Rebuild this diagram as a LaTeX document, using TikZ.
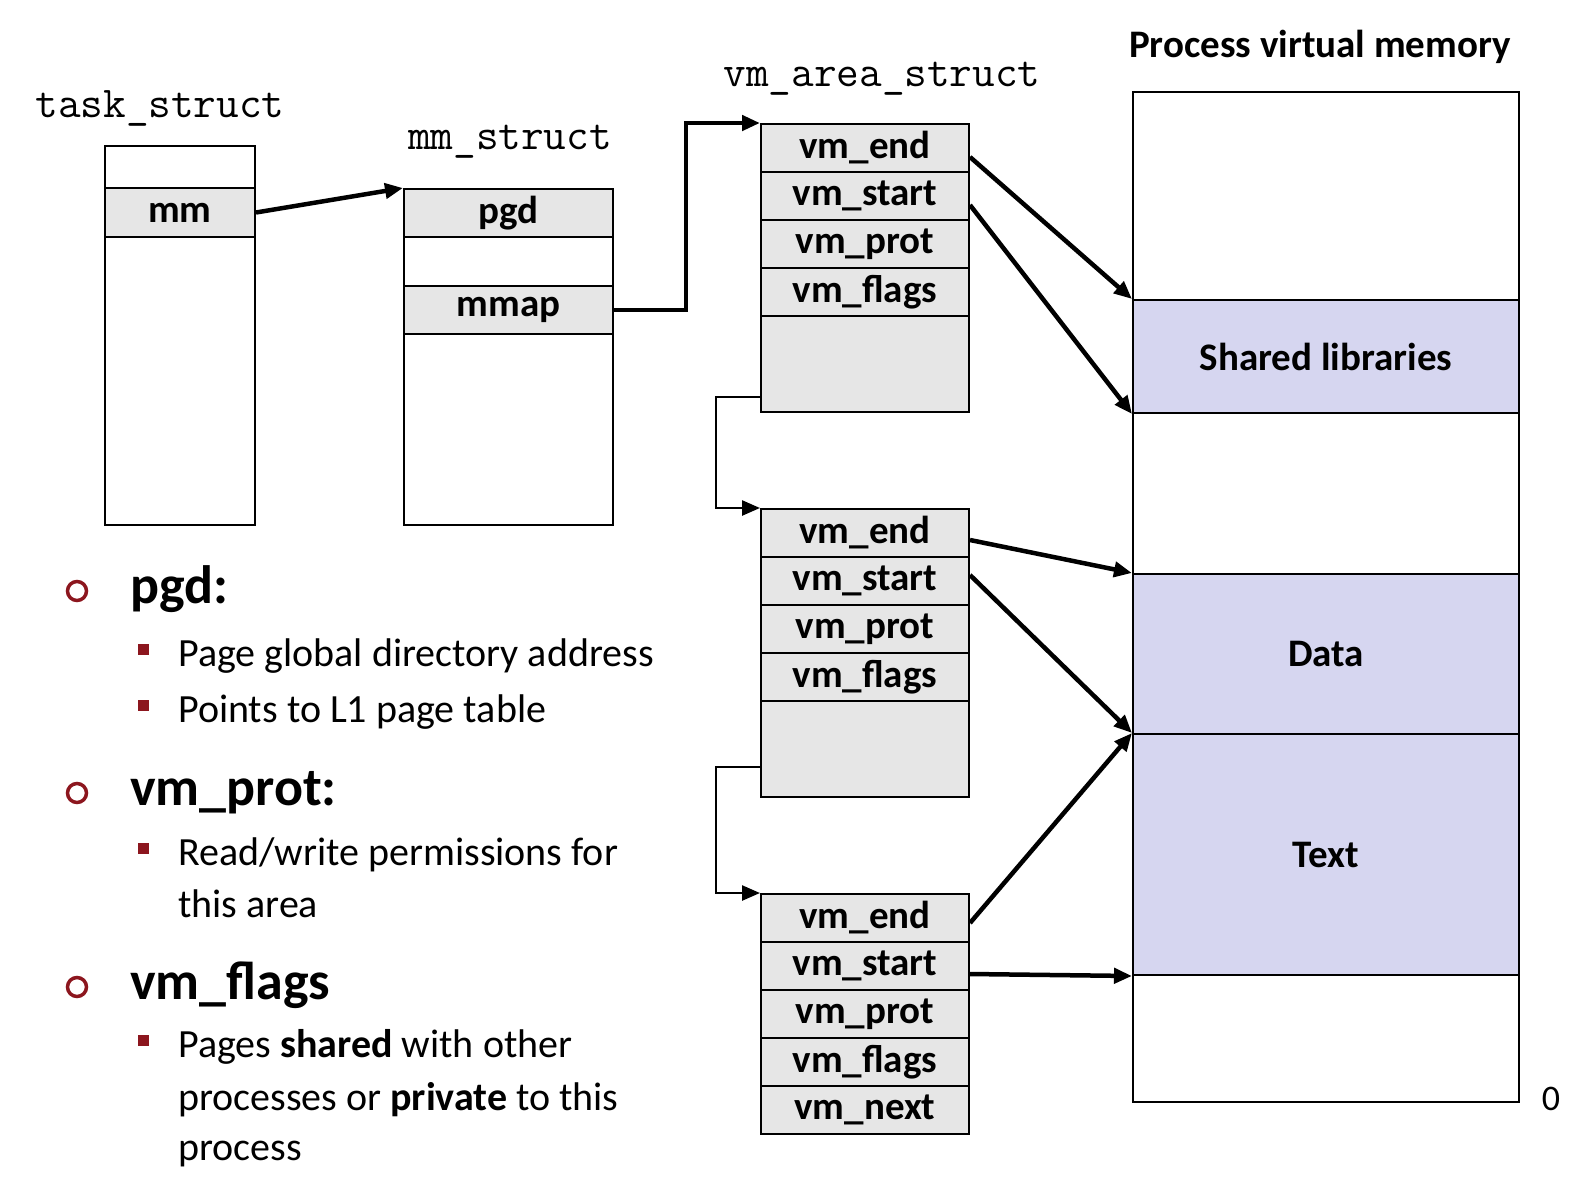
\documentclass[tikz,border=0pt]{standalone}
\usepackage{fontspec}
\setmainfont{Carlito}
\usetikzlibrary{arrows.meta}
\definecolor{fieldgray}{RGB}{230,230,230}
\definecolor{lavender}{RGB}{214,214,240}
\definecolor{bulletred}{RGB}{140,22,30}
\newcommand{\fieldfont}{\fontsize{39}{44}\selectfont\bfseries}
\newcommand{\structfont}{\fontsize{44}{50}\selectfont\ttfamily}
\newcommand{\headfont}{\fontsize{54}{60}\selectfont\bfseries}
\newcommand{\subfont}{\fontsize{40}{52}\selectfont}
\tikzstyle{field}=[draw, fill=fieldgray, line width=2pt, minimum width=208pt, minimum height=48pt, inner sep=0pt, font=\fieldfont]
\tikzstyle{emptyfield}=[field, fill=white]
\tikzstyle{region}=[draw, line width=2pt, minimum width=386pt, inner sep=0pt, font=\fieldfont]
\tikzstyle{structname}=[font=\structfont, anchor=base]
\tikzstyle{ptr}=[-{Triangle[length=18pt,width=15pt]}, line width=4.5pt]
\tikzstyle{nextptr}=[ptr, line width=2.5pt]
\tikzstyle{heading}=[font=\headfont, anchor=base west, inner sep=0pt]
\tikzstyle{subtext}=[font=\subfont, anchor=base west, inner sep=0pt]
\tikzstyle{roundbullet}=[circle, draw=bulletred, line width=3.5pt, minimum size=19pt, inner sep=0pt]
\tikzstyle{squarebullet}=[rectangle, fill=bulletred, minimum size=11pt, inner sep=0pt]

\begin{document}
\begin{tikzpicture}[x=1pt, y=-1pt]

  \useasboundingbox (0,0) rectangle (1590,1202);

  \node[structname] (tsName) at (160,117) {task\_struct};
  \node[structname] (mmName) at (510,149) {mm\_struct};
  \node[structname] (vmName) at (882,86) {vm\_area\_struct};
  \node[font=\fieldfont, anchor=base] (pvmName) at (1320,57) {Process virtual memory};

  % task_struct
  \node[emptyfield, minimum width=150pt, minimum height=42pt] (tsTop) at (180,167) {};
  \node[field, minimum width=150pt, minimum height=49pt] (tsMm) at (180,212.5) {mm};
  \node[emptyfield, minimum width=150pt, minimum height=288pt] (tsRest) at (180,381) {};

  % mm_struct
  \node[field, minimum width=209pt] (mmPgd) at (508.5,213) {pgd};
  \node[emptyfield, minimum width=209pt, minimum height=49pt] (mmGap) at (508.5,261.5) {};
  \node[field, minimum width=209pt] (mmMmap) at (508.5,310) {mmap};
  \node[emptyfield, minimum width=209pt, minimum height=191pt] (mmRest) at (508.5,429.5) {};

  % vm_area_struct list
  \foreach \b/\top in {1/124, 2/509, 3/894}
    \foreach \f/\lbl [count=\i from 0] in {end/vm\_end, start/vm\_start, prot/vm\_prot, flags/vm\_flags}
      \node[field] (b\b\f) at (865, {\top+24+48*\i}) {\lbl};
  \node[field, minimum height=96pt] (b1rest) at (865,364) {};
  \node[field, minimum height=96pt] (b2rest) at (865,749) {};
  \node[field] (b3next) at (865,1110) {vm\_next};

  % process virtual memory
  \foreach \name/\ypos/\h/\c/\lbl in {memtop/196/208/white/{}, memshlib/356.5/113/lavender/Shared libraries, memgap/493.5/161/white/{}, memdata/654/160/lavender/Data, memtext/854.5/241/lavender/Text, membot/1038.5/127/white/{}}
    \node[region, fill=\c, minimum height=\h] (\name) at (1326,\ypos) {\lbl};
  \node[font=\fontsize{36}{40}\selectfont, anchor=base] (zeroMark) at (1551,1110) {0};

  \draw[ptr] (tsMm.east) -- (mmPgd.north west);
  \draw[ptr] (mmMmap.east) -- ++(72,0) |- (b1end.north west);
  \draw[nextptr] ([yshift=-33pt]b1rest.west) -- ++(-44,0) |- (b2end.north west);
  \draw[nextptr] ([yshift=-18pt]b2rest.west) -- ++(-44,0) |- (b3end.north west);

  \foreach \src/\dy/\dest in {b1end/-9/memshlib.north west, b1start/-9/memshlib.south west, b2end/-7/memdata.north west, b2start/6/memtext.north west, b3end/-5/memtext.north west, b3start/-8/memtext.south west}
    \draw[ptr] ([yshift=\dy pt]\src.east) -- (\dest);

  % notes
  \foreach \ypos/\name/\txt in {603/pgdHead/pgd:, 805/protHead/vm\_prot:, 999/flagsHead/vm\_flags}
    {
      \node[roundbullet] (\name Dot) at (77,\ypos-12) {};
      \node[heading] (\name) at (130,\ypos) {\txt};
    }
  \foreach \ypos/\name in {649/pgdSq1, 705/pgdSq2, 848/protSq, 1040/flagsSq}
    \node[squarebullet] (\name) at (143,\ypos) {};
  \foreach \ypos/\name/\txt in {666/pgdLine1/Page global directory address, 722/pgdLine2/Points to L1 page table, 865/protLine1/{Read/write permissions for}, 917/protLine2/this area, 1057/flagsLine1/{Pages \textbf{shared} with other}, 1110/flagsLine2/{processes or \textbf{private} to this}, 1160/flagsLine3/process}
    \node[subtext] (\name) at (178,\ypos) {\txt};

\end{tikzpicture}
\end{document}
